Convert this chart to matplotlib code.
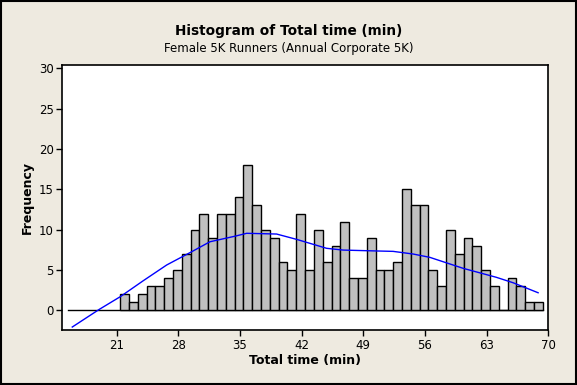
import matplotlib.pyplot as plt
import numpy as np
from matplotlib.patches import Rectangle

BACKGROUND_COLOR = "#EEEAE0"
BAR_COLOR = "#C0C0C0"
FIT_COLOR = "#0000FF"

# histogram: first bin edge and bin width in minutes, then counts per bin
FIRST_EDGE = 21.4
BIN_WIDTH = 1.0
COUNTS = [
    2, 1, 2, 3, 3, 4, 5, 7, 10, 12, 9, 12, 12, 14, 18, 13,
    10, 9, 6, 5, 12, 5, 10, 6, 8, 11, 4, 4, 9, 5, 5, 6,
    15, 13, 13, 5, 3, 10, 7, 9, 8, 5, 3, 0, 4, 3, 1, 1,
]

# smoothed fit line
FIT_X = [15.96, 17.29, 19.03, 21.41, 24.02, 26.68, 29.51, 31.59, 34.51, 35.76,
         39.16, 41.43, 44.84, 46.72, 50.89, 52.40, 54.67, 56.56, 60.34, 64.13,
         66.02, 68.86]
FIT_Y = [-2.07, -1.12, 0.12, 1.69, 3.67, 5.62, 7.26, 8.50, 9.21, 9.55,
         9.46, 8.80, 7.69, 7.47, 7.35, 7.31, 6.98, 6.57, 5.21, 4.09,
         3.42, 2.18]

BASELINE_X = [15.5, 69.4]
X_TICKS = [21, 28, 35, 42, 49, 56, 63, 70]
Y_TICKS = [0, 5, 10, 15, 20, 25, 30]


def main() -> None:
    figure = plt.figure(figsize=(5.77, 3.85), dpi=100, facecolor=BACKGROUND_COLOR)
    figure.patches.append(
        Rectangle((0.001, 0.002), 0.997, 0.995, transform=figure.transFigure,
                  fill=False, edgecolor="black", linewidth=1.5)
    )
    axis = figure.add_axes((0.108, 0.142, 0.842, 0.689), facecolor="white")

    counts = np.array(COUNTS)
    lefts = FIRST_EDGE + BIN_WIDTH * np.arange(len(counts))
    axis.bar(lefts, counts, width=BIN_WIDTH, align="edge", color=BAR_COLOR,
             edgecolor="black", linewidth=1.0, zorder=2)
    axis.plot(BASELINE_X, [0, 0], color="black", linewidth=1.0, zorder=1)
    axis.plot(FIT_X, FIT_Y, color=FIT_COLOR, linewidth=1.0, zorder=3)

    axis.set_xlim(14.83, 70)
    axis.set_ylim(-2.48, 30.41)
    axis.set_xticks(X_TICKS)
    axis.set_yticks(Y_TICKS)
    axis.tick_params(direction="out", length=4, width=1, labelsize=8.5,
                     colors="black", pad=2)
    for spine in axis.spines.values():
        spine.set_linewidth(1.2)

    axis.set_xlabel("Total time (min)", fontsize=9, fontweight="bold", labelpad=2)
    axis.set_ylabel("Frequency", fontsize=9, fontweight="bold", labelpad=4)

    figure.text(0.5, 0.92, "Histogram of Total time (min)", ha="center",
                va="center", fontsize=9.8, fontweight="bold")
    figure.text(0.5, 0.874, "Female 5K Runners (Annual Corporate 5K)",
                ha="center", va="center", fontsize=8.5)

    figure.savefig("out.png", dpi=100, facecolor=figure.get_facecolor())
    plt.close(figure)


if __name__ == "__main__":
    main()
